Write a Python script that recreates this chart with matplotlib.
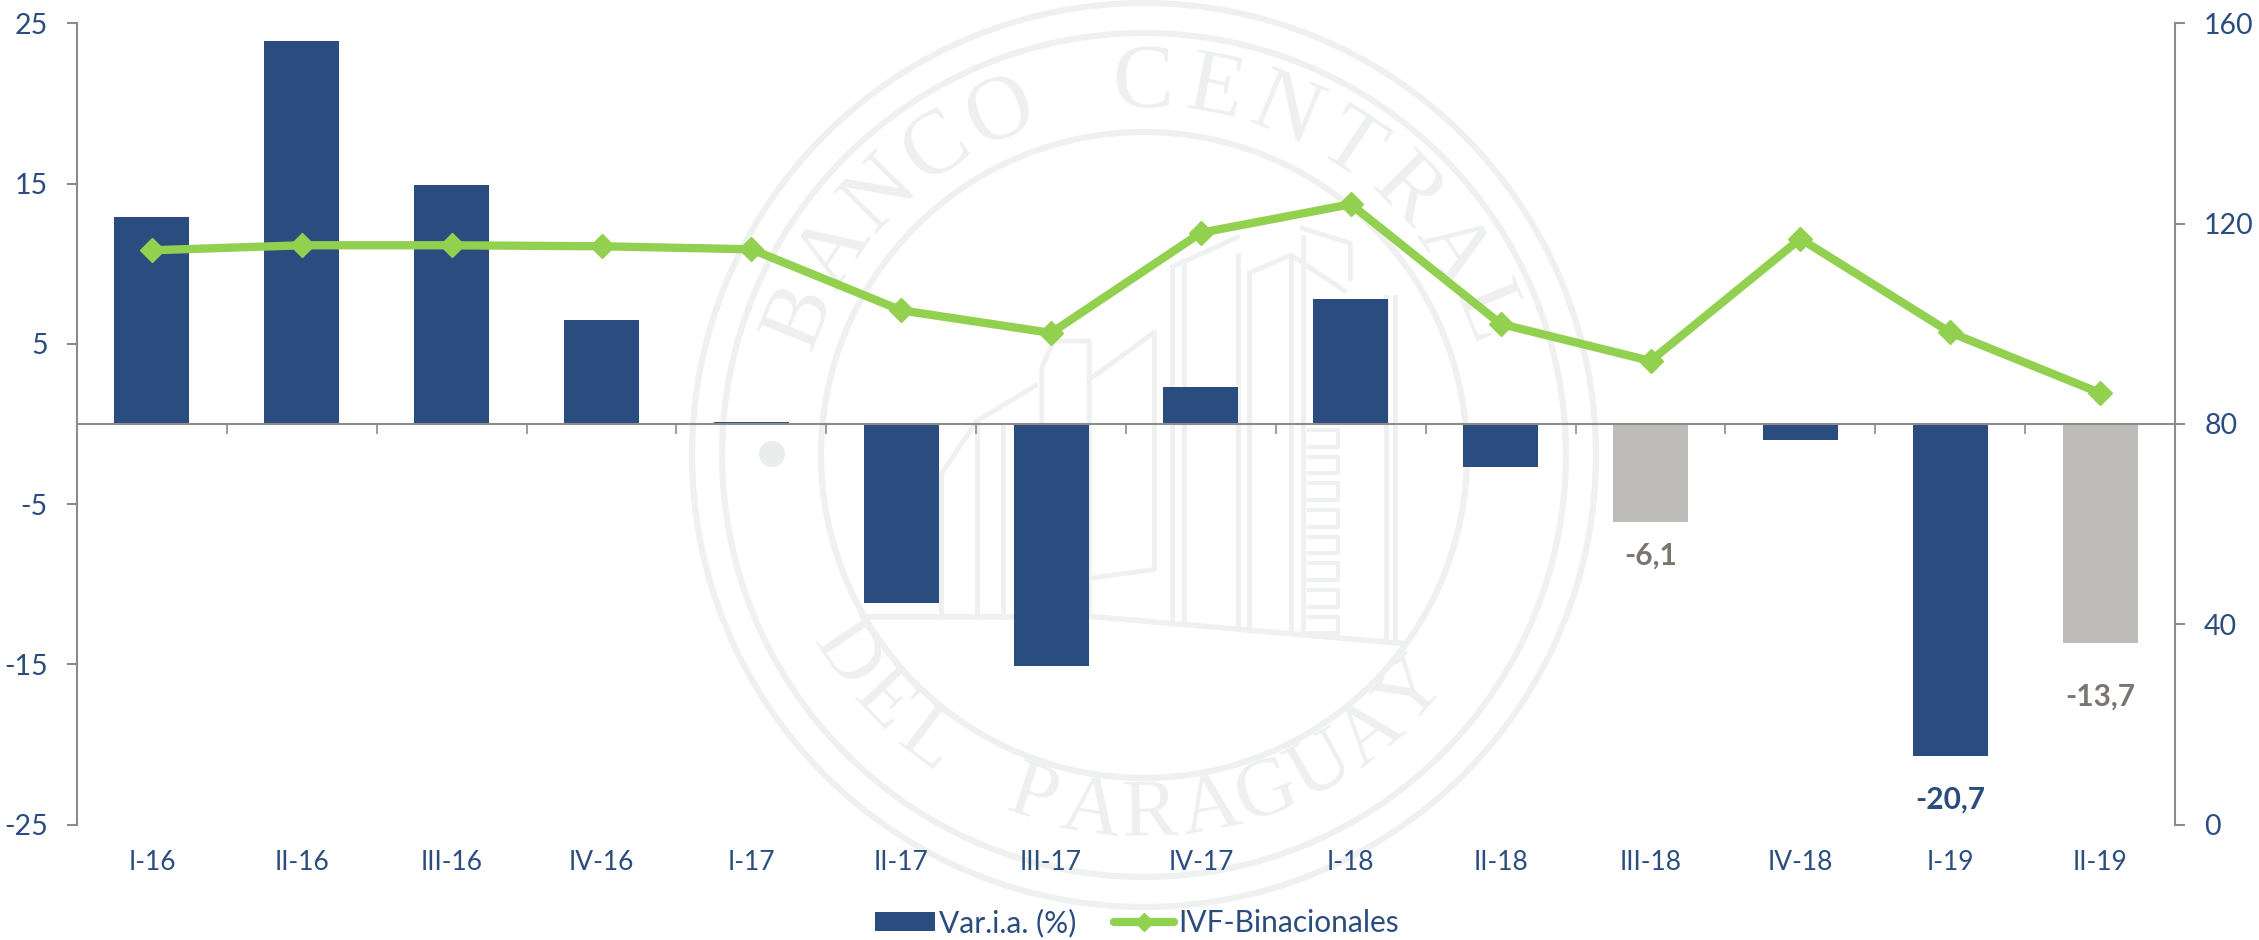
import numpy as np
import matplotlib
matplotlib.use("Agg")
import matplotlib.pyplot as plt
from matplotlib.patches import Circle, Patch
from matplotlib.lines import Line2D

# data
quarters = ["I-16", "II-16", "III-16", "IV-16", "I-17", "II-17", "III-17", "IV-17",
            "I-18", "II-18", "III-18", "IV-18", "I-19", "II-19"]
var_ia = [12.9, 23.9, 14.9, 6.5, 0.1, -11.2, -15.1, 2.3, 7.8, -2.7, -6.1, -1.0, -20.7, -13.7]
ivf = [114.7, 115.7, 115.7, 115.5, 114.9, 102.7, 98.2, 118.2, 123.9, 100.0, 92.6, 117.0, 98.3, 86.2]
grey_quarters = ["III-18", "II-19"]
left_ticks = [-25, -15, -5, 5, 15, 25]
right_ticks = [0, 40, 80, 120, 160]
labels = {"III-18": "-6,1", "I-19": "-20,7", "II-19": "-13,7"}

BLUE = "#2B4C7E"
GREY = "#BDBCB8"
GREEN = "#92D050"
AXIS = "#8C8C8C"
LABEL_GREY = "#7A766E"
SEAL = "#EEF1F0"

W, H = 2259, 940
plt.rcParams["font.family"] = ["Lato", "DejaVu Sans"]
plt.rcParams["axes.unicode_minus"] = False
fig = plt.figure(figsize=(W / 100, H / 100), dpi=100, facecolor="white")

# watermark seal, in pixel coordinates
bg = fig.add_axes([0, 0, 1, 1], zorder=0)
bg.set_xlim(0, W)
bg.set_ylim(H, 0)
bg.axis("off")
cx, cy = 1144, 455
for r, lw in [(452, 4.5), (422, 4.5), (323, 4.5)]:
    bg.add_patch(Circle((cx, cy), r, fill=False, ec=SEAL, lw=lw))


def arc_text(text, r, start, step, size, bottom=False):
    for i, ch in enumerate(text):
        a = np.radians(start + i * step)
        x = cx + r * np.sin(a)
        y = cy - r * np.cos(a)
        rot = -np.degrees(a) + (180 if bottom else 0)
        bg.text(x, y, ch, rotation=rot, ha="center", va="center", fontsize=size,
                family="Liberation Serif", color="#EDF0EF", rotation_mode="anchor")


arc_text("BANCO CENTRAL", 370, -68, 11.3, 66)
arc_text("DEL PARAGUAY", 360, 236, -9.5, 60, bottom=True)


def seal_line(xs, ys, lw=3.5):
    # sketched from a crop of the seal, crop scale 1.686 starting at x=680
    bg.plot([680 + v / 1.686 for v in xs], [v / 1.686 for v in ys], color=SEAL, lw=lw)


for xv, y0, y1 in [(830, 450, 1045), (850, 440, 1048), (940, 430, 1052), (960, 460, 1053),
                   (1030, 430, 1060), (1050, 400, 1062), (1190, 500, 1080), (1205, 500, 1082),
                   (500, 710, 1040), (545, 720, 1040), (440, 800, 1040)]:
    seal_line([xv, xv], [y0, y1])
seal_line([830, 940], [450, 400])
seal_line([960, 1030, 1120], [460, 430, 490])
seal_line([1050, 1130, 1130], [385, 410, 470])
seal_line([690, 800, 800, 690], [640, 560, 960, 975])
seal_line([610, 610, 630, 690, 690], [1040, 620, 575, 575, 1040])
seal_line([600, 500, 440], [650, 710, 800])
seal_line([320, 700, 1220], [1040, 1040, 1085], lw=4)
for yv in range(725, 1060, 45):
    seal_line([1060, 1110, 1110, 1060], [yv, yv, yv + 28, yv + 28], lw=3)
bg.add_patch(Circle((772, 454), 13, color="#E9EDEC", lw=0))

# main axes
left, right, top, bottom = 77, 2175, 23.5, 824.5
ax = fig.add_axes([left / W, 1 - bottom / H, (right - left) / W, (bottom - top) / H], zorder=1)
ax.patch.set_visible(False)
x = np.arange(len(quarters))
colors = [GREY if q in grey_quarters else BLUE for q in quarters]
bars = ax.bar(x, var_ia, width=0.5, color=colors, zorder=2)
ax.set_xlim(-0.5, len(quarters) - 0.5)
ax.set_ylim(-25, 25)
ax.set_yticks(left_ticks)
ax.set_xticks(np.arange(len(quarters) + 1) - 0.5)
ax.set_xticklabels([])
ax.tick_params(axis="x", length=7, width=1.2, color=AXIS, direction="out")
ax.tick_params(axis="y", length=7, width=1.5, color=AXIS, labelcolor=BLUE, labelsize=20.5, pad=14)
ax.spines["bottom"].set_position(("data", 0))
ax.spines["bottom"].set_color(AXIS)
ax.spines["bottom"].set_linewidth(1.5)
ax.spines["bottom"].set_zorder(3)
ax.spines["left"].set_color(AXIS)
ax.spines["left"].set_linewidth(1.5)
ax.spines["top"].set_visible(False)
ax.spines["right"].set_visible(False)

# category names sit at the bottom of the plot, not on the zero line
for xi, q in zip(x, quarters):
    ax.annotate(q, (xi, -25), xytext=(0, -27), textcoords="offset points", ha="center",
                va="center", color=BLUE, fontsize=19)

# value labels
offsets = {"III-18": 34, "I-19": 44, "II-19": 53}
for xi, q, v in zip(x, quarters, var_ia):
    if q in labels:
        c = BLUE if q == "I-19" else LABEL_GREY
        ax.annotate(labels[q], (xi, v), xytext=(0, -offsets[q] * 0.72), textcoords="offset points",
                    ha="center", va="center", color=c, fontsize=21.5, fontweight="bold")

ax2 = ax.twinx()
ax2.set_zorder(2)
ax2.patch.set_visible(False)
ax2.plot(x, ivf, color=GREEN, lw=6, marker="D", ms=12, mec=GREEN, solid_joinstyle="round")
ax2.set_ylim(0, 160)
ax2.set_yticks(right_ticks)
ax2.tick_params(axis="y", length=7, width=1.5, color=AXIS, labelcolor=BLUE, labelsize=20.5, pad=14)
ax2.spines["right"].set_color(AXIS)
ax2.spines["right"].set_linewidth(1.5)
for s in ["left", "top", "bottom"]:
    ax2.spines[s].set_visible(False)

handles = [Patch(color=BLUE, lw=0, label="Var.i.a. (%)"),
           Line2D([0], [0], color=GREEN, lw=6, marker="D", ms=9, solid_capstyle="round",
                  label="IVF-Binacionales")]
fig.legend(handles=handles, loc="center", bbox_to_anchor=(1137 / W, 1 - 923 / H), ncol=2,
           frameon=False, fontsize=21.5, labelcolor=BLUE, handlelength=2, handleheight=0.6,
           handletextpad=0.15, columnspacing=1.25, borderpad=0)

fig.savefig("out.png", dpi=100)
